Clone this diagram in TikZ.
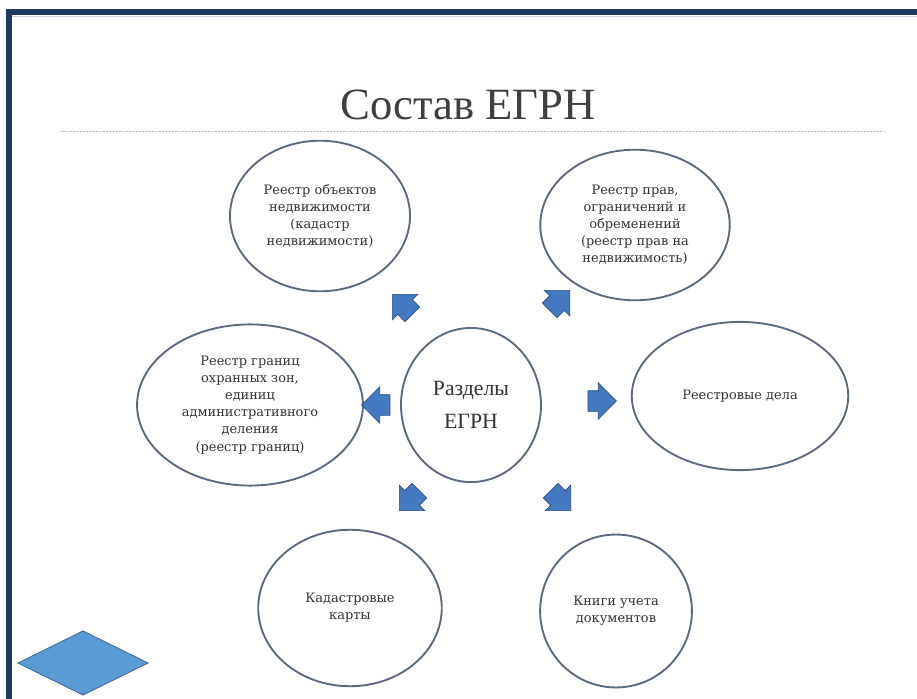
\documentclass[tikz,border=0pt]{standalone}
\usepackage{fontspec}
\setmainfont{Liberation Serif}
\newfontfamily\bodyfont{DejaVu Serif}
\usetikzlibrary{shapes.geometric,shapes.arrows,calc}
\definecolor{ink}{HTML}{333333}
\definecolor{titleink}{HTML}{3F3F3F}
\definecolor{navy}{HTML}{1F3864}
\definecolor{navylight}{HTML}{C9D5E4}
\definecolor{rim}{HTML}{5A6B7F}
\definecolor{arrowfill}{HTML}{4279C0}
\definecolor{arrowrim}{HTML}{2B4F86}
\definecolor{gemfill}{HTML}{5B9BD5}
\definecolor{gemrim}{HTML}{41719C}
\definecolor{rulegray}{HTML}{B8B8B8}
\tikzset{
  every node/.style={text=ink},
  sect/.style={ellipse,draw=rim,line width=1.6pt,fill=white,align=center,inner sep=0pt,font=\bodyfont\fontsize{11}{14.5}\selectfont},
  hub/.style={sect,font=\fontsize{18.5}{28}\selectfont},
  blockarr/.style={single arrow,fill=arrowfill,draw=arrowrim,line width=0.6pt,minimum height=24pt,inner xsep=0pt,inner ysep=8.5pt,single arrow head extend=6.5pt,rotate=#1},
  headline/.style={font=\fontsize{38}{40}\selectfont,text=titleink,anchor=base}
}

\begin{document}
\begin{tikzpicture}[x=0.85pt,y=-0.85pt]
  \useasboundingbox[fill=white] (0,0) rectangle (917,699);

  % frame
  \fill[navy] (6,9) rectangle (917,15);
  \fill[navy] (6,9) rectangle (12,699);
  \draw[navylight,line width=0.8pt] (12,16) -- (917,16);

  % title
  \node[headline] (title) at (468,120) {Состав ЕГРН};
  \coordinate (ruleL) at (60,131);
  \coordinate (ruleR) at (885,131);
  \draw[rulegray,line width=0.8pt,dash pattern=on 1.6pt off 1.2pt] (ruleL) -- (ruleR);

  % sections
  \node[hub,minimum width=119pt,minimum height=131pt] (hub) at (471,405) {Разделы\\ЕГРН};
  \node[sect,minimum width=153pt,minimum height=128pt] (objects) at (320,216) {Реестр объектов\\недвижимости\\(кадастр\\недвижимости)};
  \node[sect,minimum width=161pt,minimum height=128pt] (rights) at (635,225) {Реестр прав,\\ограничений и\\обременений\\(реестр прав на\\недвижимость)};
  \node[sect,minimum width=192pt,minimum height=137pt] (borders) at (250,405) {Реестр границ\\охранных зон,\\единиц\\административного\\деления\\(реестр границ)};
  \node[sect,minimum width=184pt,minimum height=126pt] (files) at (740,396) {Реестровые дела};
  \node[sect,minimum width=156pt,minimum height=133pt] (maps) at (350,608) {Кадастровые\\карты};
  \node[sect,minimum width=129pt,minimum height=130pt] (books) at (616,611) {Книги учета\\документов};

  % block arrows
  \node[blockarr=135] (toobjects) at (406,308) {};
  \node[blockarr=45] (torights) at (556,304) {};
  \node[blockarr=180] (toborders) at (381,405) {};
  \node[blockarr=0] (tofiles) at (597,401) {};
  \node[blockarr=225] (tomaps) at (413,497) {};
  \node[blockarr=315] (tobooks) at (557,497) {};

  % corner diamond
  \draw[fill=gemfill,draw=gemrim,line width=0.8pt] (18,663) -- (83,631) -- (148,663) -- (83,695) -- cycle;
\end{tikzpicture}
\end{document}
